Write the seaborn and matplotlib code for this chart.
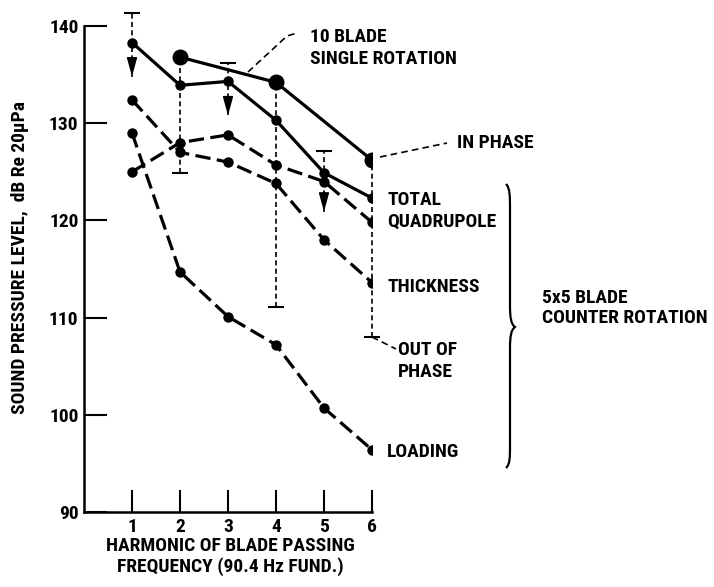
"""
Harmonic levels of 5x5 counter rotation vs 10 blade single rotation.
"""

import matplotlib
matplotlib.use("Agg")

import matplotlib.pyplot as plt
import matplotlib.patches as mpatches
from matplotlib.lines import Line2D
from matplotlib.path import Path
from matplotlib import font_manager
import pandas as pd
import seaborn as sns

# data
harmonic = [1, 2, 3, 4, 5, 6]
total = [138.3, 133.9, 134.3, 130.3, 124.9, 122.3]
quadrupole = [125.0, 128.0, 128.8, 125.7, 124.0, 119.8]
thickness = [132.4, 127.0, 126.0, 123.8, 118.0, 113.6]
loading = [129.0, 114.7, 110.1, 107.2, 100.7, 96.4]

single_harmonic = [2, 4, 6]
single_rotation = [136.8, 134.2, 126.2]

# in phase / out of phase range bars
bar_harmonic = [1, 2, 3, 4, 5, 6]
bar_top = [141.3, 136.8, 136.2, 134.2, 127.1, 126.2]
bar_bottom = [134.8, 124.9, 130.8, 111.1, 120.9, 108.0]
bar_kind = ['arrow', 'cap', 'arrow', 'cap', 'arrow', 'cap']

x_ticks = [1, 2, 3, 4, 5, 6]
y_ticks = [90, 100, 110, 120, 130, 140]

W, H = 714, 587


def fxy(px, py):
    # reference pixel -> figure fraction
    return px / W, 1 - py / H


def main():
    sns.set_style('ticks')
    names = {f.name for f in font_manager.fontManager.ttflist}
    fam = [n for n in ['Liberation Sans Narrow', 'Noto Sans Condensed', 'Roboto Condensed',
                       'DejaVu Sans Condensed'] if n in names]
    plt.rcParams['font.family'] = fam + ['DejaVu Sans']
    plt.rcParams['font.weight'] = 'bold'
    plt.rcParams['axes.labelweight'] = 'bold'
    plt.rcParams['text.color'] = 'black'
    fs = 14 if fam else 11

    fig = plt.figure(figsize=(W / 100, H / 100), dpi=100)
    ax = fig.add_axes([84 / W, 1 - 512 / H, 288 / W, 486 / H])

    df = pd.DataFrame({
        'harmonic': harmonic * 4,
        'spl': total + quadrupole + thickness + loading,
        'source': ['Total'] * 6 + ['Quadrupole'] * 6 + ['Thickness'] * 6 + ['Loading'] * 6,
    })
    dash = (4.8, 2.0)
    sns.lineplot(data=df, x='harmonic', y='spl', style='source', color='black',
                 dashes={'Total': '', 'Quadrupole': dash, 'Thickness': dash, 'Loading': dash},
                 markers={'Total': 'o', 'Quadrupole': 'o', 'Thickness': 'o', 'Loading': 'o'},
                 markersize=7.5, markeredgewidth=0, linewidth=2.3, legend=False, ax=ax)

    single = pd.DataFrame({'harmonic': single_harmonic, 'spl': single_rotation})
    sns.lineplot(data=single, x='harmonic', y='spl', color='black', marker='o',
                 markersize=11.5, markeredgewidth=0, linewidth=2.3, legend=False, ax=ax)

    # range bars
    for x, top, bot, kind in zip(bar_harmonic, bar_top, bar_bottom, bar_kind):
        ax.vlines(x, bot, top, colors='black', linewidth=1.2, linestyles=(0, (3, 2)),
                  clip_on=False, zorder=1)
        if kind == 'cap':
            ax.hlines(bot, x - 0.16, x + 0.16, colors='black', linewidth=1.5, clip_on=False)
        else:
            ax.hlines(top, x - 0.16, x + 0.16, colors='black', linewidth=1.5, clip_on=False)
            ax.annotate('', xy=(x, bot), xytext=(x, bot + 1.3), annotation_clip=False,
                        arrowprops=dict(arrowstyle='-|>,head_length=0.8,head_width=0.22',
                                        mutation_scale=14, color='black', lw=1.2,
                                        shrinkA=0, shrinkB=0))

    ax.set_xlim(0, 6)
    ax.set_ylim(90, 140)
    ax.set_xticks(x_ticks)
    ax.set_yticks(y_ticks)
    ax.set_xticklabels([str(t) for t in x_ticks])
    ax.set_yticklabels([str(t) for t in y_ticks])
    sns.despine(ax=ax)
    for s in ['left', 'bottom']:
        ax.spines[s].set_linewidth(1.8)
        ax.spines[s].set_color('black')
    ax.tick_params(axis='x', direction='in', length=16, width=1.5, pad=4, labelsize=fs, colors='black')
    ax.tick_params(axis='y', direction='in', length=16.5, width=1.5, pad=4, labelsize=fs, colors='black')

    ax.set_xlabel('HARMONIC OF BLADE PASSING\nFREQUENCY (90.4 Hz FUND.)', fontsize=fs,
                  linespacing=1.15, color='black')
    ax.xaxis.set_label_coords((230 - 84) / 288, (512 - 537) / 486)
    ax.xaxis.label.set_va('top')
    ax.set_ylabel('SOUND PRESSURE LEVEL,  dB Re 20\u03bcPa', fontsize=fs, color='black')
    ax.yaxis.set_label_coords((20 - 84) / 288, (512 - 257) / 486)
    ax.yaxis.label.set_va('center')

    # labels on the right
    labels = [
        ('10 BLADE\nSINGLE ROTATION', 310, 48),
        ('IN PHASE', 457, 143),
        ('TOTAL\nQUADRUPOLE', 387, 211),
        ('THICKNESS', 387, 287),
        ('OUT OF\nPHASE', 398, 361),
        ('LOADING', 387, 452),
        ('5x5 BLADE\nCOUNTER ROTATION', 542, 308),
    ]
    for txt, px, py in labels:
        ls = 1.1 if txt.startswith('5x5') else 1.25
        fig.text(*fxy(px, py), txt, ha='left', va='center', fontsize=fs, linespacing=ls)

    # dashed leaders
    leaders = [
        [(248, 72), (287, 36), (297, 33)],
        [(380, 157), (447, 143)],
        [(372, 337), (396, 349)],
    ]
    for pts in leaders:
        xs, ys = zip(*[fxy(p, q) for p, q in pts])
        fig.add_artist(Line2D(xs, ys, transform=fig.transFigure, color='black',
                              linewidth=1.2, linestyle=(0, (4, 2.5))))

    # curly brace
    pts = [(506, 184), (510, 188), (510, 196), (510, 210), (510, 305),
           (510, 318), (511, 324), (515, 327), (511, 330), (510, 336), (510, 349),
           (510, 445), (510, 458), (510, 464), (506, 468)]
    codes = [Path.MOVETO, Path.CURVE4, Path.CURVE4, Path.CURVE4, Path.LINETO,
             Path.CURVE4, Path.CURVE4, Path.CURVE4, Path.CURVE4, Path.CURVE4, Path.CURVE4,
             Path.LINETO, Path.CURVE4, Path.CURVE4, Path.CURVE4]
    brace = Path([fxy(p, q) for p, q in pts], codes)
    fig.add_artist(mpatches.PathPatch(brace, transform=fig.transFigure, fill=False,
                                      edgecolor='black', linewidth=1.6))

    fig.savefig('out.png', dpi=100)


if __name__ == '__main__':
    main()
